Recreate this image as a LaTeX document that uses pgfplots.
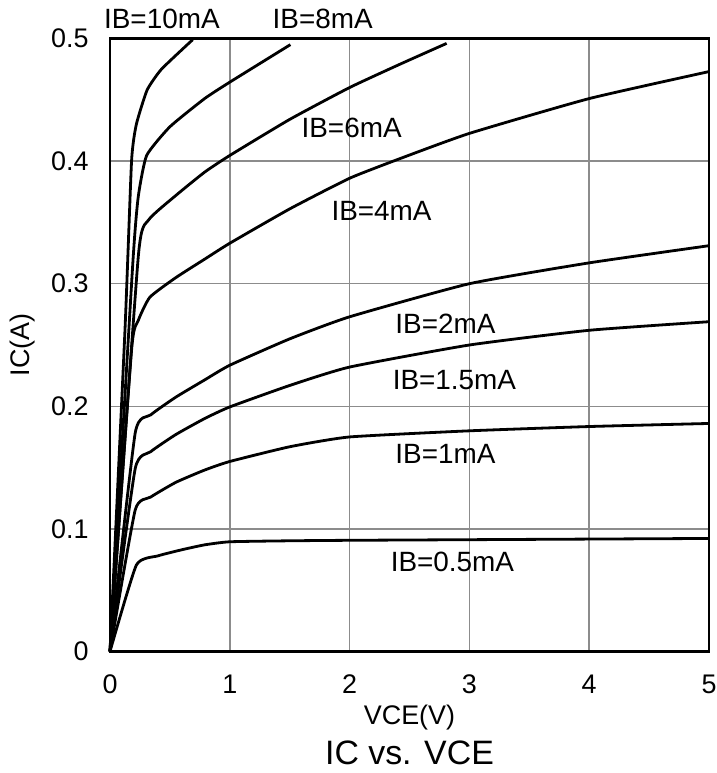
\documentclass[border=0pt]{standalone}
\usepackage{fontspec}
\setmainfont{Liberation Sans}
\usepackage{pgfplots}
\pgfplotsset{compat=1.18}

\begin{document}
\begin{tikzpicture}
\begin{axis}[
    name=ax,
    scale only axis,
    width=599bp,
    height=613bp,
    xmin=0, xmax=5,
    ymin=0, ymax=0.5,
    xtick={0,1,2,3,4,5},
    ytick={0,0.1,0.2,0.3,0.4,0.5},
    xticklabels={0,1,2,3,4,5},
    yticklabels={0,0.1,0.2,0.3,0.4,0.5},
    major tick length=0pt,
    tick label style={font=\fontsize{27}{31}\selectfont},
    xticklabel style={yshift=-20bp},
    yticklabel style={xshift=-18bp},
    grid=major,
    major grid style={color=black!45, line width=1.6bp},
    axis line style={line width=2.2bp},
    xlabel={VCE(V)},
    ylabel={IC(A)},
    xlabel style={font=\fontsize{27}{31}\selectfont, yshift=-4bp},
    ylabel style={font=\fontsize{27}{31}\selectfont, yshift=9bp},
    clip=false,
    cycle list={{black, solid}},
    every axis plot/.append style={line width=2.8bp, no marks, line join=round, smooth, tension=0.3},
]
% IB=0.5mA
\addplot coordinates {(0,0)(0.22,0.0705)(0.4,0.078)(0.6,0.083)(0.79,0.087)(1,0.0895)(1.5,0.0903)(2,0.0907)(3,0.0912)(4,0.0917)(5,0.0922)};
% IB=1mA
\addplot coordinates {(0,0)(0.21,0.1153)(0.34,0.126)(0.55,0.138)(0.79,0.148)(1,0.155)(1.5,0.167)(2,0.175)(3,0.180)(4,0.1835)(5,0.186)};
% IB=1.5mA
\addplot coordinates {(0,0)(0.21,0.149)(0.34,0.163)(0.55,0.177)(0.79,0.190)(1,0.1995)(1.5,0.217)(2,0.232)(3,0.250)(4,0.262)(5,0.269)};
% IB=2mA
\addplot coordinates {(0,0)(0.21,0.178)(0.34,0.193)(0.55,0.2075)(0.79,0.2215)(1,0.2335)(1.5,0.255)(2,0.273)(3,0.300)(4,0.317)(5,0.331)};
% IB=4mA
\addplot coordinates {(0,0)(0.18,0.246)(0.236,0.270)(0.333,0.289)(0.55,0.305)(0.79,0.320)(1,0.333)(1.5,0.361)(2,0.386)(2.42,0.402)(3,0.4226)(4,0.451)(5,0.473)};
% IB=6mA
\addplot coordinates {(0,0)(0.236,0.322)(0.32,0.3517)(0.55,0.372)(0.79,0.391)(1,0.4046)(1.5,0.434)(2,0.460)(2.42,0.479)(2.81,0.496)};
% IB=8mA
\addplot coordinates {(0,0)(0.19,0.316)(0.236,0.371)(0.306,0.4046)(0.5,0.428)(0.79,0.451)(1,0.4644)(1.506,0.495)};
% IB=10mA
\addplot coordinates {(0,0)(0.125,0.262)(0.18,0.40)(0.22,0.43)(0.31,0.458)(0.43,0.475)(0.69,0.499)};

\begin{scope}[every node/.style={font=\fontsize{28}{32}\selectfont, inner sep=0pt}]
\node at (axis cs:0.433,0.516) {IB=10mA};
\node at (axis cs:1.775,0.516) {IB=8mA};
\node at (axis cs:2.017,0.4274) {IB=6mA};
\node at (axis cs:2.267,0.3593) {IB=4mA};
\node at (axis cs:2.8,0.2677) {IB=2mA};
\node at (axis cs:2.875,0.2216) {IB=1.5mA};
\node at (axis cs:2.8,0.1614) {IB=1mA};
\node at (axis cs:2.858,0.0731) {IB=0.5mA};
\end{scope}
\node[font=\fontsize{34}{38}\selectfont, inner sep=0pt] at ([yshift=-101bp]rel axis cs:0.5,0) {IC vs. VCE};
\end{axis}
\pgfresetboundingbox
\path ([xshift=-110bp,yshift=-121.5bp]ax.south west) rectangle ([xshift=8bp,yshift=38.5bp]ax.north east);
\end{tikzpicture}
\end{document}
